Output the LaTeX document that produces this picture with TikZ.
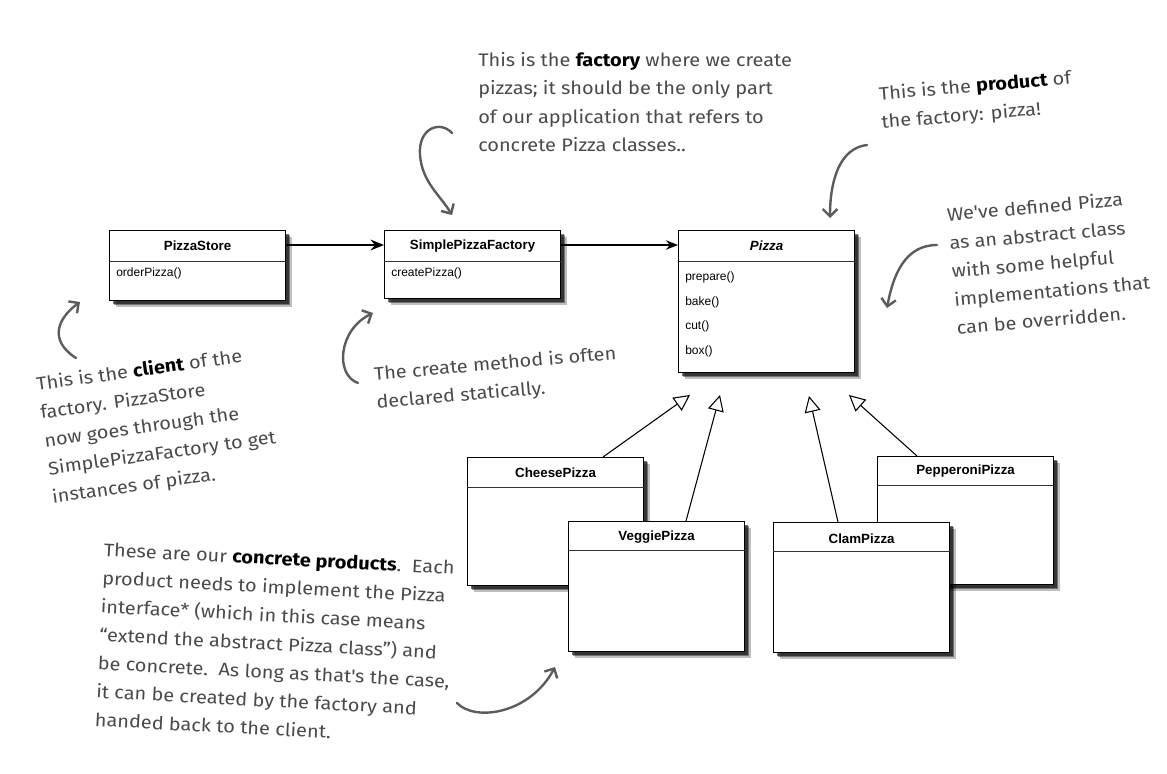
\documentclass[tikz,border=0pt]{standalone}
\usepackage{fontspec}
\setmainfont{Liberation Sans}
\newfontfamily\hand[FakeStretch=1.1]{Fira Sans}
\usetikzlibrary{arrows.meta,shadows,calc}
\definecolor{ink}{HTML}{4A4A4A}
\newcommand{\hl}[1]{{\color{black}\bfseries #1}}
\tikzset{
  softshadow/.style={
    general shadow={shadow xshift=4.8pt, shadow yshift=-4.8pt, fill=black, opacity=0.25},
    general shadow={shadow xshift=3.6pt, shadow yshift=-3.6pt, fill=black, opacity=0.4},
    general shadow={shadow xshift=2.2pt, shadow yshift=-2.2pt, fill=black, opacity=0.55}},
  umlbox/.style={draw=black, line width=0.9pt, fill=white, anchor=north west,
    minimum width=132pt, inner sep=0pt, softshadow},
  divider/.style={draw=black!80, line width=0.7pt},
  title/.style={font=\fontsize{10}{12}\selectfont\bfseries, inner sep=0pt},
  meth/.style={font=\fontsize{9}{11}\selectfont, anchor=west, inner sep=0pt},
  note/.style={font=\hand\fontsize{13.6}{21.3}\selectfont, text=ink, align=left,
    anchor=north west, inner sep=0pt},
  curvy/.style={draw=ink!90, line width=1.8pt, line cap=round,
    -{Straight Barb[length=5.5pt,width=11pt,line width=1.8pt]}},
  inh/.style={line width=0.8pt, -{Triangle[open,length=12pt,width=12pt,fill=white]}},
  assoc/.style={line width=2pt, -{Stealth[length=10pt,width=8pt]}},
  assocthin/.style={line width=1.3pt, -{Stealth[length=9pt,width=7pt]}},
}
\begin{document}
\begin{tikzpicture}[x=0.75pt,y=-0.75pt]
\useasboundingbox (0,0) rectangle (1167,774);

% ---------- top row ----------
\node[umlbox, minimum height=52.5pt] (ps) at (109,230) {};
\node[title] (pst) at ($(ps.north)+(0,16)$) {PizzaStore};
\draw[divider] ($(ps.north west)+(0,31)$) -- ($(ps.north east)+(0,31)$);
\node[meth] (psm) at ($(ps.north west)+(7,43)$) {orderPizza()};

\node[umlbox, minimum height=51pt] (spf) at (384,230) {};
\node[title] (spft) at ($(spf.north)+(0,16)$) {SimplePizzaFactory};
\draw[divider] ($(spf.north west)+(0,31)$) -- ($(spf.north east)+(0,31)$);
\node[meth] (spfm) at ($(spf.north west)+(7,43)$) {createPizza()};

\node[umlbox, minimum height=106.5pt] (pz) at (678,230) {};
\node[title] (pzt) at ($(pz.north)+(0,16)$) {\itshape Pizza};
\draw[divider] ($(pz.north west)+(0,31)$) -- ($(pz.north east)+(0,31)$);
\node[meth] (m1) at ($(pz.north west)+(7,47)$) {prepare()};
\node[meth] (m2) at ($(pz.north west)+(7,72)$) {bake()};
\node[meth] (m3) at ($(pz.north west)+(7,96)$) {cut()};
\node[meth] (m4) at ($(pz.north west)+(7,121)$) {box()};

\draw[assoc] ($(ps.north east)+(0,15)$) -- ($(spf.north west)+(0,15)$);
\draw[assocthin] ($(spf.north east)+(0,15)$) -- ($(pz.north west)+(0,15)$);

% ---------- concrete products ----------
\node[umlbox, minimum height=96pt] (ch) at (467,457) {};
\node[title] (cht) at ($(ch.north)+(0,16)$) {CheesePizza};
\draw[divider] ($(ch.north west)+(0,30)$) -- ($(ch.north east)+(0,30)$);

\node[umlbox, minimum height=96pt] (pp) at (877,456) {};
\node[title] (ppt) at ($(pp.north)+(0,15)$) {PepperoniPizza};
\draw[divider] ($(pp.north west)+(0,29)$) -- ($(pp.north east)+(0,29)$);

\node[umlbox, minimum height=97.5pt] (vg) at (568,521) {};
\node[title] (vgt) at ($(vg.north)+(0,16)$) {VeggiePizza};
\draw[divider] ($(vg.north west)+(0,29)$) -- ($(vg.north east)+(0,29)$);

\node[umlbox, minimum height=97.5pt] (cl) at (773,522) {};
\node[title] (clt) at ($(cl.north)+(0,17)$) {ClamPizza};
\draw[divider] ($(cl.north west)+(0,29)$) -- ($(cl.north east)+(0,29)$);

\coordinate (t1) at (690,395);
\coordinate (t2) at (720,395);
\coordinate (t3) at (809,396);
\coordinate (t4) at (849,395);
\draw[inh] ($(ch.north west)+(136,0)$) -- (t1);
\draw[inh] ($(vg.north west)+(118,0)$) -- (t2);
\draw[inh] ($(cl.north west)+(65,0)$) -- (t3);
\draw[inh] ($(pp.north west)+(40,0)$) -- (t4);

% ---------- notes ----------
\node[note] (nfac) at (478,52) {This is the \hl{factory} where we create\\pizzas; it should be the only part\\of our application that refers to\\concrete Pizza classes..};
\node[note, rotate=5] (nprod) at (878,86) {This is the \hl{product} of\\the factory: pizza!};
\node[note, rotate=5] (nabs) at (946,207) {We've defined Pizza\\as an abstract class\\with some helpful\\implementations that\\can be overridden.};
\node[note, rotate=8] (ncli) at (35,376) {This is the \hl{client} of the\\factory. PizzaStore\\now goes through the\\SimplePizzaFactory to get\\instances of pizza.};
\node[note, rotate=5] (ncre) at (373,366) {The create method is often\\declared statically.};
\node[note, rotate=-3] (ncon) at (104,542) {These are our \hl{concrete products}.\ \ Each\\product needs to implement the Pizza\\interface* (which in this case means\\“extend the abstract Pizza class”) and\\be concrete.\ \ As long as that's the case,\\it can be created by the factory and\\handed back to the client.};

% ---------- curved pointers ----------
\coordinate (ca0) at (76,358);   \coordinate (ca1) at (80,302);
\draw[curvy] (ca0) .. controls (48,340) and (58,318) .. (ca1);
\coordinate (fa0) at (452,133);  \coordinate (fam) at (420,155); \coordinate (fa1) at (452,215);
\draw[curvy] (fa0) .. controls (440,120) and (418,128) .. (fam) .. controls (422,182) and (440,195) .. (fa1);
\coordinate (pa0) at (867,145);  \coordinate (pa1) at (830,218);
\draw[curvy] (pa0) .. controls (840,148) and (830,180) .. (pa1);
\coordinate (cr0) at (358,383);  \coordinate (cr1) at (373,313);
\draw[curvy] (cr0) .. controls (335,375) and (338,330) .. (cr1);
\coordinate (ab0) at (937,245);  \coordinate (ab1) at (887,308);
\draw[curvy] (ab0) .. controls (905,245) and (893,275) .. (ab1);
\coordinate (co0) at (457,703);  \coordinate (co1) at (555,667);
\draw[curvy] (co0) .. controls (475,722) and (530,714) .. (co1);
\end{tikzpicture}
\end{document}
